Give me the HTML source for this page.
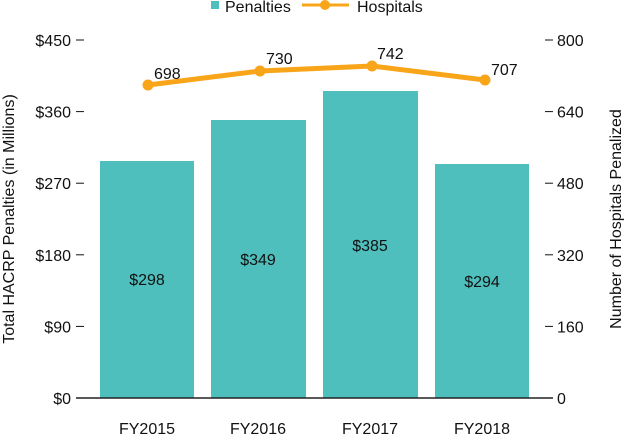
<!DOCTYPE html>
<html><head><meta charset="utf-8"><style>
body{margin:0;background:#fff}
svg{display:block;font-family:"Liberation Sans",Arial,sans-serif}
</style></head><body>
<svg width="624" height="435" viewBox="0 0 624 435">
<g font-size="16" fill="#111">
<rect x="211" y="1" width="8" height="8" fill="#4fbfbd"/>
<text x="225" y="12">Penalties</text>
<line x1="302" y1="5" x2="349" y2="5" stroke="#f9a51a" stroke-width="3"/>
<circle cx="325" cy="5" r="5" fill="#f9a51a"/>
<text x="357" y="12">Hospitals</text>
</g>
<g fill="#4fbfbd">
<rect x="100" y="161" width="94" height="237"/>
<rect x="211" y="120" width="95" height="278"/>
<rect x="323" y="91" width="95" height="307"/>
<rect x="435" y="164" width="94" height="234"/>
</g>
<line x1="76" y1="398" x2="553" y2="398" stroke="#222" stroke-width="1.5"/>
<g stroke="#111" stroke-width="1">
<line x1="76" y1="40" x2="84" y2="40"/><line x1="76" y1="111.6" x2="84" y2="111.6"/>
<line x1="76" y1="183.2" x2="84" y2="183.2"/><line x1="76" y1="254.8" x2="84" y2="254.8"/>
<line x1="76" y1="326.4" x2="84" y2="326.4"/>
<line x1="545" y1="40" x2="553" y2="40"/><line x1="545" y1="111.6" x2="553" y2="111.6"/>
<line x1="545" y1="183.2" x2="553" y2="183.2"/><line x1="545" y1="254.8" x2="553" y2="254.8"/>
<line x1="545" y1="326.4" x2="553" y2="326.4"/>
</g>
<g font-size="16" fill="#111" text-anchor="end">
<text x="71" y="46">$450</text><text x="71" y="117.6">$360</text><text x="71" y="189.2">$270</text>
<text x="71" y="260.8">$180</text><text x="71" y="332.4">$90</text><text x="71" y="404">$0</text>
</g>
<g font-size="16" fill="#111">
<text x="557" y="46">800</text><text x="557" y="117.6">640</text><text x="557" y="189.2">480</text>
<text x="557" y="260.8">320</text><text x="557" y="332.4">160</text><text x="557" y="404">0</text>
</g>
<g font-size="16" fill="#111" text-anchor="middle">
<text x="147" y="434">FY2015</text><text x="258" y="434">FY2016</text>
<text x="370" y="434">FY2017</text><text x="482" y="434">FY2018</text>
<text x="147" y="285">$298</text><text x="258" y="265">$349</text>
<text x="370" y="251">$385</text><text x="482" y="287">$294</text>
</g>
<text transform="translate(14,219) rotate(-90)" font-size="16" fill="#111" text-anchor="middle">Total HACRP Penalties (in Millions)</text>
<text transform="translate(621,219) rotate(-90)" font-size="16" fill="#111" text-anchor="middle">Number of Hospitals Penalized</text>
<polyline points="148,85 260,71 372,66 485,80" fill="none" stroke="#f9a51a" stroke-width="5" stroke-linejoin="round"/>
<g fill="#f9a51a">
<circle cx="148" cy="85" r="5.5"/><circle cx="260" cy="71" r="5.5"/>
<circle cx="372" cy="66" r="5.5"/><circle cx="485" cy="80" r="5.5"/>
</g>
<g font-size="16" fill="#111">
<text x="154" y="79">698</text><text x="266" y="64">730</text>
<text x="377" y="59">742</text><text x="491" y="75">707</text>
</g>
</svg>
</body></html>
